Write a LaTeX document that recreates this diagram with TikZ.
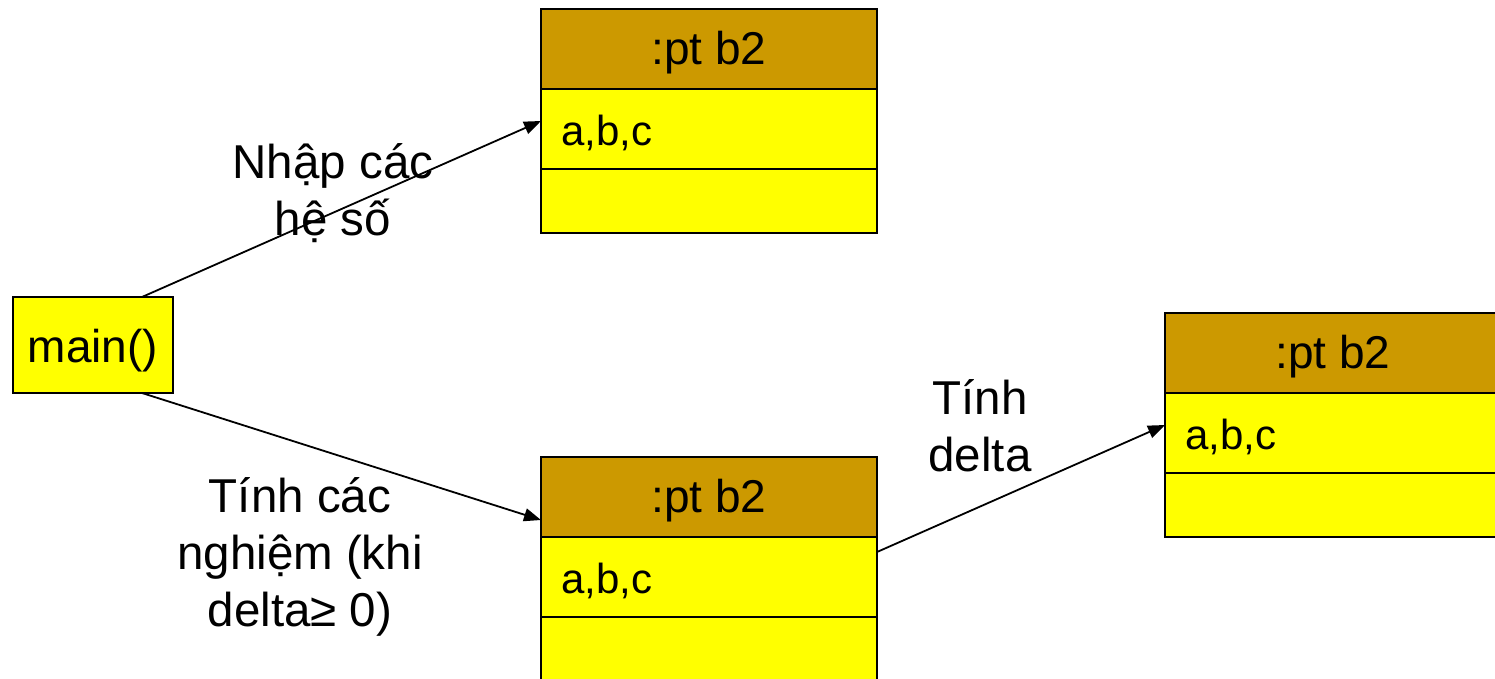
\documentclass[tikz,border=0pt]{standalone}
\usepackage{fontspec}
\setmainfont{Liberation Sans}
\usetikzlibrary{calc,arrows.meta}
\definecolor{hdrgold}{RGB}{204,153,0}
\definecolor{rowyellow}{RGB}{255,255,0}
% lower a text inside its node without changing the node's size
\newcommand{\lowered}[2]{\raisebox{-#1}[\height][\depth]{#2}}
\tikzset{
  txt/.style={font=\fontsize{46}{56}\selectfont},
  boxline/.style={draw=black,line width=2.3pt,outer sep=0pt},
  hdr/.style={boxline,txt,fill=hdrgold,anchor=north west,minimum width=336pt,
    minimum height=80pt,inner sep=0pt},
  attr/.style={boxline,font=\fontsize{42}{50}\selectfont,fill=rowyellow,anchor=north west,
    text width=296pt,inner xsep=20pt,inner ysep=0pt,minimum height=80pt,align=left},
  oper/.style={boxline,fill=rowyellow,anchor=north west,minimum width=336pt,
    minimum height=64pt,inner sep=0pt},
  msg/.style={draw=black,line width=1.8pt,-{Triangle[length=17pt,width=13pt]}},
  lbl/.style={font=\fontsize{47.5}{57}\selectfont,align=center,inner sep=0pt}
}
\begin{document}
\begin{tikzpicture}[x=1pt,y=-1pt]
\useasboundingbox (0,0) rectangle (1495,679);

% caller
\node[boxline,txt,fill=rowyellow,minimum width=160pt,minimum height=96pt,inner sep=0pt]
  (main) at (93,345) {\lowered{6pt}{main()}};

% object receiving the coefficients
\node[hdr] (topH) at (541,9) {\lowered{4pt}{:pt b2}};
\node[attr] (topA) at (topH.south west) {\lowered{4pt}{a,b,c}};
\node[oper] (topO) at (topA.south west) {};

% object computing the roots
\node[hdr] (botH) at (541,457) {\lowered{4pt}{:pt b2}};
\node[attr] (botA) at (botH.south west) {\lowered{4pt}{a,b,c}};
\node[oper] (botO) at (botA.south west) {};

% object computing delta
\node[hdr] (rgtH) at (1165,313) {\lowered{4pt}{:pt b2}};
\node[attr] (rgtA) at (rgtH.south west) {\lowered{4pt}{a,b,c}};
\node[oper] (rgtO) at (rgtA.south west) {};

% messages
\draw[msg] ($(main.north)+(49,0)$) -- ($(topA.west)+(0,-8)$);
\draw[msg] ($(main.south)+(49,0)$) -- ($(botH.west)+(0,23)$);
\draw[msg] ($(botA.east)+(0,-25)$) -- ($(rgtA.west)+(0,-8)$);

% message labels
\node[lbl] (l1) at (333,193) {Nhập các\\hệ số};
\node[lbl] (l2) at (300,557) {Tính các\\nghiệm (khi\\delta≥ 0)};
\node[lbl] (l3) at (980,426) {Tính\\delta};
\end{tikzpicture}
\end{document}
